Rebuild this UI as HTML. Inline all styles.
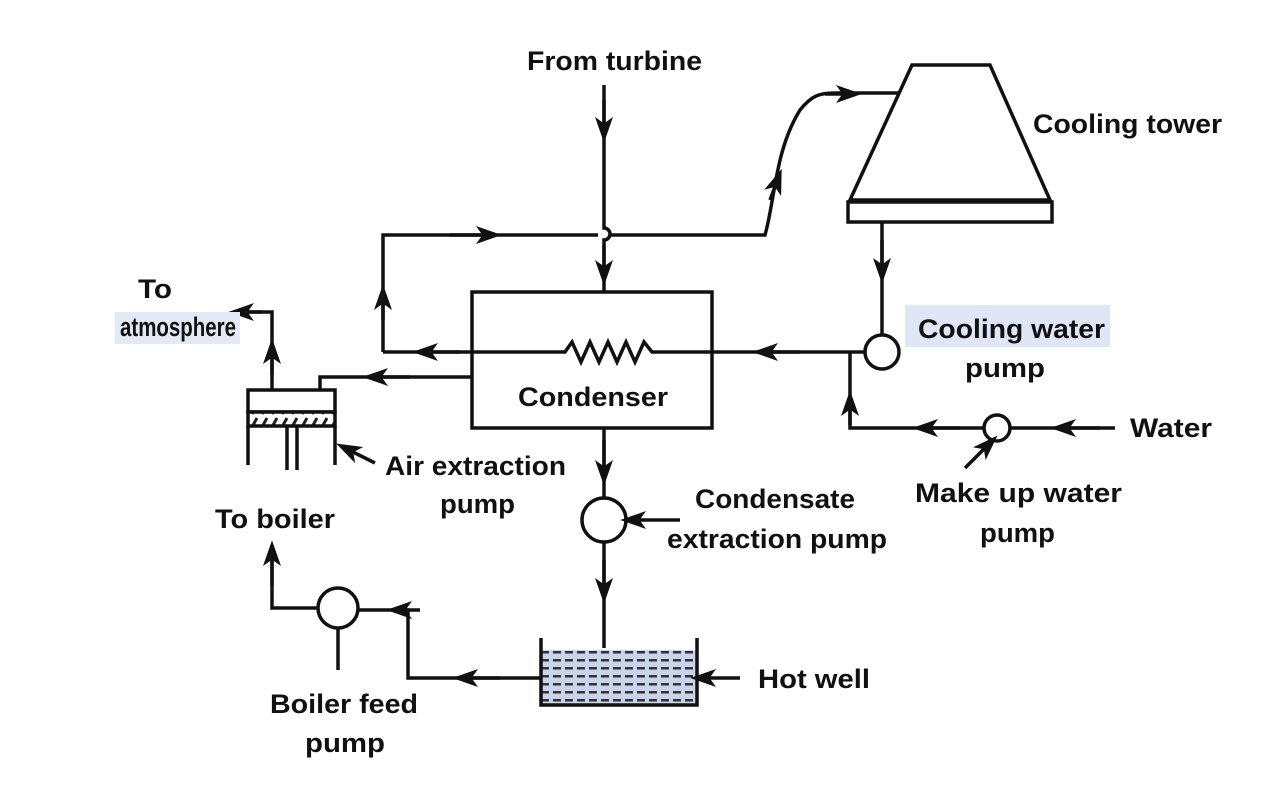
<!DOCTYPE html>
<html><head><style>
html,body{margin:0;padding:0;background:#fff;}
svg{display:block;}
text{font-family:"Liberation Sans",sans-serif;font-weight:bold;font-size:27px;fill:#111;}
</style></head><body>
<svg width="1280" height="797" viewBox="0 0 1280 797" xmlns="http://www.w3.org/2000/svg">
<defs>
<marker id="a" viewBox="0 0 20 14" refX="14" refY="7" markerWidth="26" markerHeight="18" markerUnits="userSpaceOnUse" orient="auto">
<path d="M0,0 L20,7 L0,14 L5,7 Z" fill="#111"/>
</marker>
<pattern id="hw" width="12" height="8" patternUnits="userSpaceOnUse">
<rect width="12" height="8" fill="#c9d3ea"/>
<rect x="1" y="3" width="8" height="2.5" fill="#333"/>
</pattern>
<pattern id="hatch" width="10" height="13" patternUnits="userSpaceOnUse">
<rect width="10" height="13" fill="#fff"/>
<path d="M2,11 L7,2" stroke="#222" stroke-width="3"/>
</pattern>
</defs>
<g fill="none" stroke="#111" stroke-width="3.5">
<path d="M604,85 V228 a6,6 0 0 1 0,12 V292"/>
<path d="M604,100 V135" marker-end="url(#a)"/>
<path d="M604,245 V278" marker-end="url(#a)"/>
<path d="M383,352 V235 H598 M610,235 H765 C775,200 775,150 800,110 C812,95 820,93 835,93 H902"/>
<path d="M383,320 V292" marker-end="url(#a)"/>
<path d="M450,235 H494" marker-end="url(#a)"/>
<path d="M770,200 L779,176" marker-end="url(#a)"/>
<path d="M825,94 H854" marker-end="url(#a)"/>
<path d="M912,65 H990 L1050,200 H850 Z" fill="#fff"/>
<rect x="848" y="202" width="204" height="20" fill="#fff"/>
<path d="M882,222 V335"/>
<path d="M882,240 V276" marker-end="url(#a)"/>
<circle cx="882" cy="352" r="17" fill="#fff"/>
<rect x="472" y="292" width="240" height="136"/>
<path d="M865,352 H652 l-8,-10 l-9,20 l-9,-20 l-9,20 l-9,-20 l-9,20 l-9,-20 l-9,20 l-9,-20 l-7,10 H383"/>
<path d="M800,352 H760" marker-end="url(#a)"/>
<path d="M460,352 H420" marker-end="url(#a)"/>
<path d="M472,377 H320 V390"/>
<path d="M410,377 H370" marker-end="url(#a)"/>
<rect x="248" y="390" width="87" height="22" fill="#fff"/>
<rect x="248" y="412" width="87" height="14" fill="url(#hatch)"/>
<path d="M248,426 V465 M287,426 V470 M297,426 V470 M335,426 V465"/>
<path d="M272,390 V312 H242"/>
<path d="M272,375 V346" marker-end="url(#a)"/>
<path d="M262,312 H236" marker-end="url(#a)"/>
<path d="M375,463 L343,447" marker-end="url(#a)"/>
<path d="M604,428 V498 M604,542 V648"/>
<path d="M604,440 V478" marker-end="url(#a)"/>
<path d="M604,560 V596" marker-end="url(#a)"/>
<circle cx="604" cy="520" r="22" fill="#fff"/>
<path d="M680,520 H628" marker-end="url(#a)"/>
<rect x="541" y="650" width="156" height="55" fill="url(#hw)" stroke="none"/>
<path d="M541,638 V705 H697 V638"/>
<path d="M740,678 H698" marker-end="url(#a)"/>
<path d="M541,678 H408 V610 H358"/>
<path d="M500,678 H460" marker-end="url(#a)"/>
<path d="M420,610 H394" marker-end="url(#a)"/>
<circle cx="338" cy="608" r="20" fill="#fff"/>
<path d="M318,608 H272 V550"/>
<path d="M272,585 V548" marker-end="url(#a)"/>
<path d="M338,628 V670"/>
<path d="M1115,428 H1010 M984,428 H850 V352"/>
<circle cx="997" cy="428" r="13" fill="#fff"/>
<path d="M1100,428 H1058" marker-end="url(#a)"/>
<path d="M960,428 H920" marker-end="url(#a)"/>
<path d="M850,425 V398" marker-end="url(#a)"/>
<path d="M965,468 L992,441" marker-end="url(#a)"/>
</g>
<rect x="905" y="305" width="205" height="42" fill="#dfe6f5"/>
<rect x="115" y="312" width="125" height="32" fill="#e3e9f5"/>
<g>
<text x="527" y="70" textLength="175" lengthAdjust="spacingAndGlyphs">From turbine</text>
<text x="1033" y="133" textLength="189" lengthAdjust="spacingAndGlyphs">Cooling tower</text>
<text x="138" y="298" textLength="34" lengthAdjust="spacingAndGlyphs">To</text>
<text x="120" y="336" textLength="116" lengthAdjust="spacingAndGlyphs">atmosphere</text>
<text x="918" y="338" textLength="187" lengthAdjust="spacingAndGlyphs">Cooling water</text>
<text x="965" y="377" textLength="80" lengthAdjust="spacingAndGlyphs">pump</text>
<text x="518" y="406" textLength="150" lengthAdjust="spacingAndGlyphs">Condenser</text>
<text x="1130" y="437" textLength="82" lengthAdjust="spacingAndGlyphs">Water</text>
<text x="385" y="475" textLength="181" lengthAdjust="spacingAndGlyphs">Air extraction</text>
<text x="440" y="513" textLength="75" lengthAdjust="spacingAndGlyphs">pump</text>
<text x="695" y="508" textLength="160" lengthAdjust="spacingAndGlyphs">Condensate</text>
<text x="667" y="548" textLength="220" lengthAdjust="spacingAndGlyphs">extraction pump</text>
<text x="915" y="502" textLength="207" lengthAdjust="spacingAndGlyphs">Make up water</text>
<text x="980" y="542" textLength="75" lengthAdjust="spacingAndGlyphs">pump</text>
<text x="215" y="528" textLength="120" lengthAdjust="spacingAndGlyphs">To boiler</text>
<text x="758" y="688" textLength="112" lengthAdjust="spacingAndGlyphs">Hot well</text>
<text x="270" y="713" textLength="148" lengthAdjust="spacingAndGlyphs">Boiler feed</text>
<text x="305" y="752" textLength="80" lengthAdjust="spacingAndGlyphs">pump</text>
</g>
</svg>
</body></html>
